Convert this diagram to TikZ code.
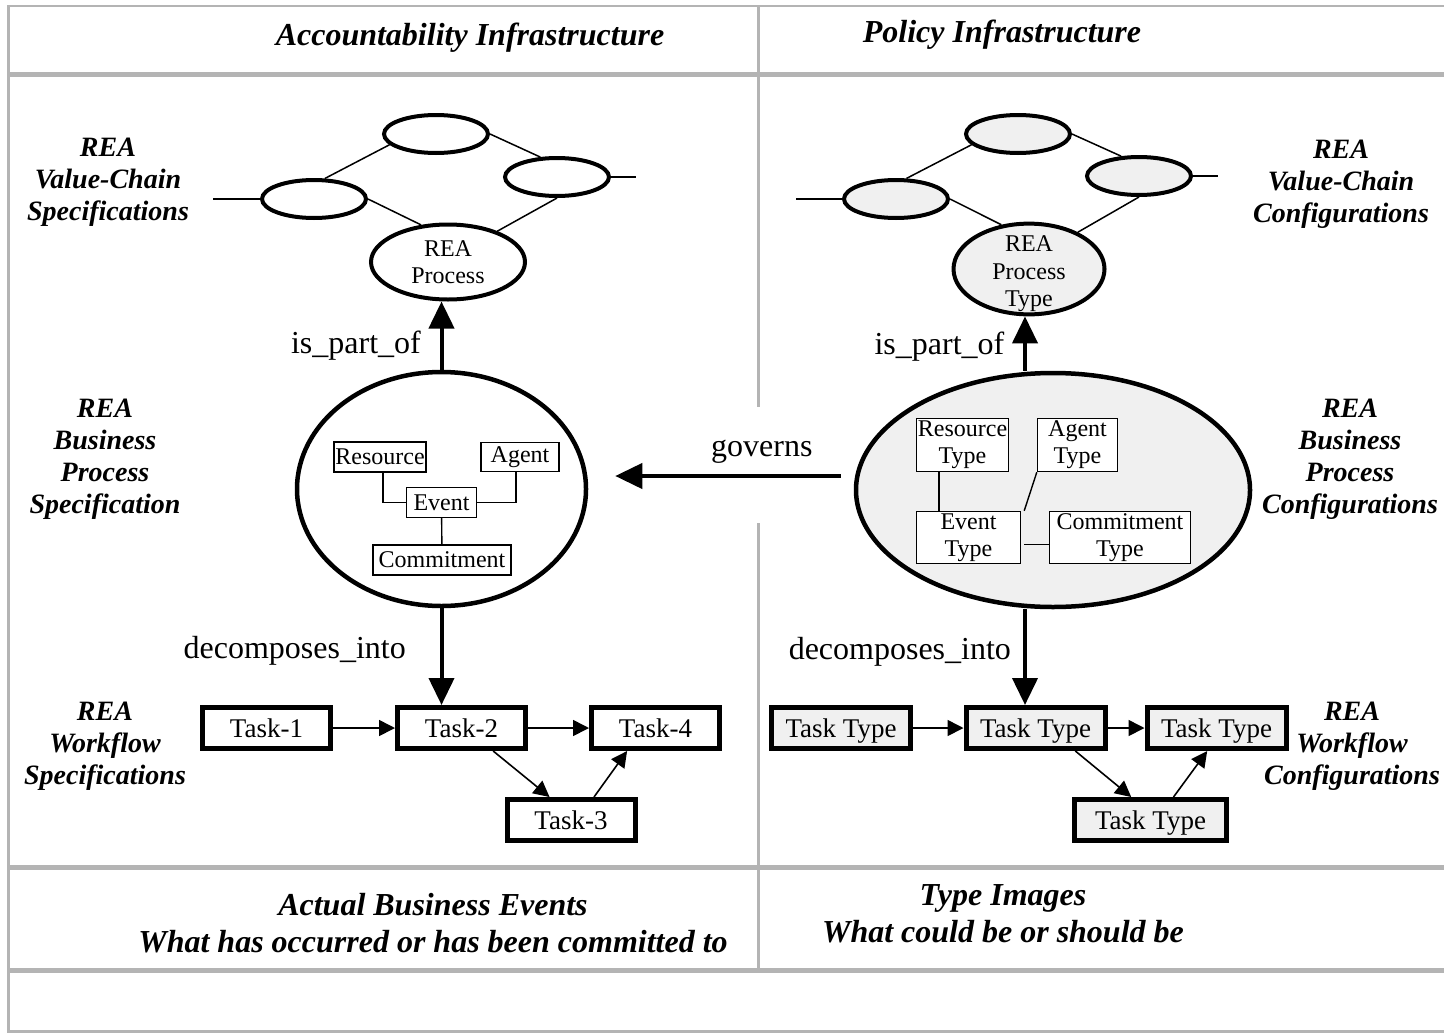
\documentclass[tikz,border=0pt]{standalone}
\usepackage{fontspec}
\setmainfont{Liberation Serif}
\usepackage{tikz}
\usetikzlibrary{shapes.geometric,arrows.meta}
\definecolor{rulegray}{RGB}{180,180,180}
\definecolor{typegray}{RGB}{240,240,240}
\tikzstyle{valuechain}=[ellipse, draw, line width=2pt, minimum width=52pt, minimum height=19pt, inner sep=0pt]
\tikzstyle{process}=[ellipse, draw, line width=2pt, inner sep=0pt, align=center, font=\fontsize{12}{13.75}\selectfont]
\tikzstyle{bizproc}=[ellipse, draw, line width=2.25pt, minimum height=117pt, inner sep=0pt]
\tikzstyle{entity}=[draw, fill=white, line width=0.7pt, inner sep=0.5pt, align=center, font=\fontsize{12}{13.5}\selectfont]
\tikzstyle{task}=[draw, fill=white, line width=2.5pt, minimum height=20.5pt, inner sep=0pt, text height=10.5pt, text depth=1pt, font=\fontsize{13.5}{16}\selectfont]
\tikzstyle{side}=[align=center, font=\fontsize{14}{16}\selectfont\bfseries\itshape]
\tikzstyle{heading}=[align=center, font=\fontsize{16}{18.5}\selectfont\bfseries\itshape]
\tikzstyle{rel}=[font=\fontsize{16}{19}\selectfont]
\tikzstyle{rule}=[draw=rulegray, line width=1.25pt]
\tikzstyle{thickrule}=[draw=rulegray, line width=2.5pt]
\newcommand{\valuechain}{\node[valuechain]}
\newcommand{\entity}{\node[entity]}
\newcommand{\task}{\node[task]}

\begin{document}
\begin{tikzpicture}[x=0.5pt, y=-0.5pt,
    every edge/.style={draw, line width=0.75pt},
    big/.style={line width=2pt, -{Triangle[length=13.5pt, width=12.5pt]}},
    small/.style={line width=0.8pt, -{Triangle[length=8pt, width=8pt]}}
]
\useasboundingbox (0,0) rectangle (1444,1033);

% table rules
\draw[rule] (8.5,6) -- (1444,6);
\draw[thickrule] (8.5,74.5) -- (1444,74.5);
\draw[thickrule] (8.5,867) -- (1444,867);
\draw[thickrule] (8.5,970) -- (1444,970);
\draw[rule] (8.5,1031.5) -- (1444,1031.5);
\draw[rule] (8.5,5) -- (8.5,1032.5);
\draw[rule, line width=1.5pt] (758.5,6) -- (758.5,407) (758.5,523) -- (758.5,970);

% headings and row labels
\node[heading] (acc) at (470,38) {Accountability Infrastructure};
\node[heading] (pol) at (1002,35) {Policy Infrastructure};
\node[heading] (actual) at (433,923) {Actual Business Events\\What has occurred or has been committed to};
\node[heading] (types) at (1003,914) {Type Images\\What could be or should be};
\node[side] (lvc) at (108,182) {REA\\Value-Chain\\Specifications};
\node[side] (lbp) at (105,459) {REA\\Business\\Process\\Specification};
\node[side] (lwf) at (105,746) {REA\\Workflow\\Specifications};
\node[side] (rvc) at (1341,184) {REA\\Value-Chain\\Configurations};
\node[side] (rbp) at (1350,459) {REA\\Business\\Process\\Configurations};
\node[side] (rwf) at (1352,746) {REA\\Workflow\\Configurations};

% accountability side
\valuechain (vt) at (436,134) {};
\valuechain (vr) at (557,177) {};
\valuechain (vl) at (314,199) {};
\node[process] (proc) at (448,262) [minimum width=77pt, minimum height=37.5pt] {REA\\Process};
\node[bizproc] (bp) at (441.5,489) [minimum width=144.5pt] {};
\entity (res) at (380,457) [minimum width=46pt, minimum height=15pt] {Resource};
\entity (ag) at (520,457) [minimum width=39pt, minimum height=14.5pt] {Agent};
\entity (ev) at (441.5,502.5) [minimum width=35pt, minimum height=15pt] {Event};
\entity (com) at (442,560) [minimum width=69pt, minimum height=15pt] {Commitment};
\task (t1) at (266.5,728) [minimum width=64pt] {Task-1};
\task (t2) at (461.5,728) [minimum width=64pt] {Task-2};
\task (t4) at (655.5,728) [minimum width=64pt] {Task-4};
\task (t3) at (571,820) [minimum width=64pt] {Task-3};

% policy side
\valuechain (wt) at (1018,134) [fill=typegray] {};
\valuechain (wr) at (1139,176) [fill=typegray] {};
\valuechain (wl) at (896,199) [fill=typegray] {};
\node[process] (ptype) at (1029,269) [fill=typegray, minimum width=75.5pt, minimum height=44pt, inner ysep=-5.5pt] {\rule{0pt}{13pt}REA\\Process\\Type};
\node[bizproc] (bt) at (1053,490) [fill=typegray, minimum width=197pt] {};
\entity (rest) at (962.5,445) [minimum width=46pt, minimum height=26.5pt] {Resource\\Type};
\entity (agt) at (1077.5,445) [minimum width=40pt, minimum height=26.5pt] {Agent\\Type};
\entity (evt) at (968.5,537.5) [minimum width=52pt, minimum height=26pt] {Event\\Type};
\entity (comt) at (1120,537.5) [minimum width=70.5pt, minimum height=26pt] {Commitment\\Type};
\task (tt1) at (841,728) [fill=typegray, minimum width=69.5pt] {Task Type};
\task (tt2) at (1035.5,728) [fill=typegray, minimum width=69.5pt] {Task Type};
\task (tt3) at (1216.5,728) [fill=typegray, minimum width=69.5pt] {Task Type};
\task (tt4) at (1150.5,820) [fill=typegray, minimum width=76pt] {Task Type};

\draw[line width=0.75pt] (vl.west) -- ++(-47,0);
\draw[line width=0.75pt] (vr.east) -- ++(25,0);
\draw[line width=0.75pt] (wl.west) -- ++(-46,0);
\draw[line width=0.75pt] (wr.east) -- ++(25,0);
\draw[line width=0.7pt] ([xshift=1.5pt]res.south) |- (ev.west);
\draw[line width=0.7pt] ([xshift=-2pt]ag.south) |- (ev.east);
\draw[line width=0.7pt] ([xshift=-11.75pt]rest.south) -- ([xshift=-11.75pt]rest.south |- evt.north);

\path
(vl.62) edge (vt.193)
(vt.east) edge (vr.130)
(vl.east) edge (proc.126)
(vr.south) edge (proc.32)
(wl.63) edge (wt.193)
(wt.east) edge (wr.132)
(wl.east) edge (ptype.122)
(wr.south) edge (ptype.37)
(ev) edge[line width=0.7pt] (com)
(agt.south west) edge[line width=0.7pt] ([xshift=1.5pt]evt.north east)
([xshift=1.5pt,yshift=-3.5pt]evt.east) edge[line width=0.7pt] ([yshift=-3.5pt]comt.west)
(bp.north) edge[big] node[rel, left=6pt, pos=0.35] {is\_part\_of} (bp.north |- proc.south)
([xshift=-2pt]ptype.south |- bt.north) edge[big] node[rel, left=6pt, pos=0.45] {is\_part\_of} ([xshift=-2pt]ptype.south)
(bp.south) edge[big] node[rel, left=13.5pt, pos=0.44] {decomposes\_into} (bp.south |- t2.north)
([xshift=-2pt]ptype.south |- bt.south) edge[big] node[rel, left=2.7pt, pos=0.44] {decomposes\_into} ([xshift=-2pt]ptype.south |- tt2.north)
([xshift=-6.5pt, yshift=7pt]bt.west) edge[big] node[rel, above=2pt, pos=0.35] {governs} ([xshift=13.5pt, yshift=6.5pt]bp.east)
(t1) edge[small] (t2)
(t2) edge[small] (t4)
(t2.-36) edge[small] (t3.133)
(t3.45) edge[small] (t4.219)
(tt1) edge[small] (tt2)
(tt2) edge[small] (tt3)
(tt2.-30) edge[small] (tt4.130)
(tt4.45) edge[small] (tt3.248)
;
\end{tikzpicture}
\end{document}
